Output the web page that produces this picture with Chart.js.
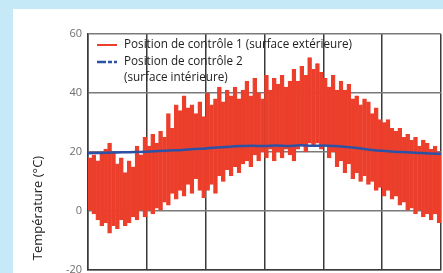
<!DOCTYPE html>
<html>
<head>
<meta charset="utf-8">
<script src="https://cdn.jsdelivr.net/npm/chart.js@4"></script>
<style>
  html, body { margin: 0; padding: 0; background: #c6e9f8; }
</style>
</head>
<body>
<canvas id="tempChart" width="443" height="273"></canvas>
<script>
/* ===== DATA ===== */
// day of the year (centre of each 4-day bar)
const days = [
  2, 6, 10, 14, 18, 22, 26, 30, 34, 38, 42, 46, 50, 54, 58, 62, 66, 70, 74, 78,
  82, 86, 90, 94, 98, 102, 106, 110, 114, 118, 122, 126, 130, 134, 138, 142, 146, 150, 154, 158,
  162, 166, 170, 174, 178, 182, 186, 190, 194, 198, 202, 206, 210, 214, 218, 222, 226, 230, 234, 238,
  242, 246, 250, 254, 258, 262, 266, 270, 274, 278, 282, 286, 290, 294, 298, 302, 306, 310, 314, 318,
  322, 326, 330, 334, 338, 342, 346, 350, 354, 358
];

// position 1 (outer surface): max / min of each 4-day slot
const outerHigh = [
  18, 19, 17, 20, 21, 23, 20, 16, 18, 13, 17, 15, 22, 19, 25, 22, 26, 23, 27, 25,
  33, 28, 36, 34, 39, 35, 36, 33, 37, 32, 40, 36, 38, 42, 37, 41, 39, 42, 38, 41,
  44, 39, 45, 40, 38, 46, 41, 45, 43, 46, 42, 44, 48, 44, 49, 46, 52, 48, 50, 47,
  45, 42, 46, 41, 44, 41, 43, 38, 39, 36, 38, 37, 33, 35, 31, 30, 31, 28, 27, 28,
  25, 26, 24, 25, 22, 24, 23, 21, 22, 20
];
const outerLow = [
  0, -1, -3, -5, -4, -7.5, -5, -6, -3, -5, -4, -2, -3, 0, -2, 0, -1, 1, 0, 3,
  2, 6, 4, 7, 5, 9, 6, 11, 7, 4.5, 7, 9, 6, 12, 10, 14, 12, 15, 13, 16,
  17, 15, 19, 17, 20, 18, 21, 17, 20, 18, 21, 19, 17, 21, 22, 20, 23, 22, 23, 21,
  22, 18, 20, 15, 17, 13, 16, 11, 13, 10, 12, 9, 10, 7, 8, 5, 7, 4, 5, 2,
  3, 0, 1, -1, 0, -2, -1, -3, -1, -4
];

// position 2 (inner surface)
const innerDays = [
  0, 12, 24, 36, 48, 60, 72, 84, 96, 108, 120, 132, 144, 156, 168, 180,
  192, 204, 216, 228, 240, 252, 264, 276, 288, 300, 312, 324, 336, 348, 360
];
const innerTemp = [
  19.6, 19.7, 19.8, 19.9, 20.0, 20.1, 20.3, 20.5, 20.7, 21.0, 21.2, 21.5, 21.8, 22.0, 22.1, 22.0,
  22.2, 22.0, 22.3, 22.1, 22.2, 22.0, 21.7, 21.3, 20.8, 20.4, 20.1, 19.9, 19.7, 19.5, 19.4
];

const yTicks = [-20, 0, 20, 40, 60];

const legendLabels = [
  ["Position de contrôle 1 (surface extérieure)"],
  ["Position de contrôle 2", "(surface intérieure)"]
];
const yTitle = "Température (°C)";

const colors = {
  outer: "#ec3f2b",
  inner: "#2c52a6",
  gridH: "#7a7a7a",
  gridV: "#3a3a3a",
  text: "#222222",
  tick: "#6e6e6e"
};

/* ===== BACKGROUND PANEL ===== */
const panelBg = {
  id: "panelBg",
  beforeDraw(chart) {
    const c = chart.ctx;
    c.save();
    c.fillStyle = "#c6e9f8";
    c.fillRect(0, 0, chart.width, chart.height);
    c.fillStyle = "#ffffff";
    c.fillRect(13, 9, chart.width - 13, chart.height - 9);
    c.restore();
  }
};

/* ===== LEGEND + AXIS TITLE ===== */
const overlay = {
  id: "overlay",
  afterDraw(chart) {
    const c = chart.ctx;
    c.save();
    // legend samples
    c.lineWidth = 2;
    c.strokeStyle = colors.outer;
    c.beginPath(); c.moveTo(97, 45); c.lineTo(117, 45); c.stroke();
    c.strokeStyle = colors.inner;
    c.lineWidth = 2.5;
    c.setLineDash([9, 2, 4, 2]);
    c.beginPath(); c.moveTo(97, 62); c.lineTo(117, 62); c.stroke();
    c.setLineDash([]);

    c.fillStyle = colors.text;
    c.font = "11.7px 'Open Sans'";
    c.textBaseline = "middle";
    c.textAlign = "left";
    c.fillText(legendLabels[0][0], 124, 45);
    c.fillText(legendLabels[1][0], 124, 62);
    c.fillText(legendLabels[1][1], 124, 78);

    // y title
    c.translate(38, 208);
    c.rotate(-Math.PI / 2);
    c.textAlign = "center";
    c.font = "13px 'Open Sans'";
    c.fillText(yTitle, 0, 0);
    c.restore();
  }
};

/* ===== CHART ===== */
new Chart(document.getElementById("tempChart"), {
  type: "bar",
  data: {
    datasets: [
      {
        type: "line",
        label: legendLabels[1].join(" "),
        data: innerDays.map((d, i) => ({ x: d, y: innerTemp[i] })),
        borderColor: colors.inner,
        borderWidth: 2.5,
        pointRadius: 0,
        tension: 0.3,
        order: 0
      },
      {
        label: legendLabels[0][0],
        data: days.map((d, i) => ({ x: d, y: [outerLow[i], outerHigh[i]] })),
        backgroundColor: colors.outer,
        borderColor: colors.outer,
        borderWidth: 0.7,
        borderSkipped: false,
        grouped: false,
        barPercentage: 1,
        categoryPercentage: 1,
        order: 1
      }
    ]
  },
  plugins: [panelBg, overlay],
  options: {
    responsive: false,
    animation: false,
    layout: { padding: { left: 0, top: 34, right: 2, bottom: 3 } },
    plugins: {
      legend: { display: false },
      tooltip: { enabled: false }
    },
    scales: {
      x: {
        type: "linear",
        min: 0,
        max: 360,
        offset: false,
        z: 1,
        ticks: { display: false, stepSize: 60 },
        grid: { color: colors.gridV, lineWidth: 1.5, drawTicks: false, offset: false },
        border: { color: colors.gridV, width: 1.5 },
        afterFit(scale) {
          scale.height = 0;
          scale.paddingLeft = 0;
          scale.paddingRight = 0;
        }
      },
      y: {
        min: -20,
        max: 60,
        z: 1,
        afterBuildTicks(scale) { scale.ticks = yTicks.map(v => ({ value: v })); },
        ticks: {
          color: colors.tick,
          padding: 6,
          font: { family: "'Open Sans'", size: 11 }
        },
        grid: { color: colors.gridH, lineWidth: 1.5, drawTicks: false },
        border: { color: colors.gridV, width: 1.5 },
        afterFit(scale) {
          scale.width = 88;
          scale.paddingTop = 0;
          scale.paddingBottom = 0;
        }
      }
    }
  }
});
</script>
</body>
</html>
